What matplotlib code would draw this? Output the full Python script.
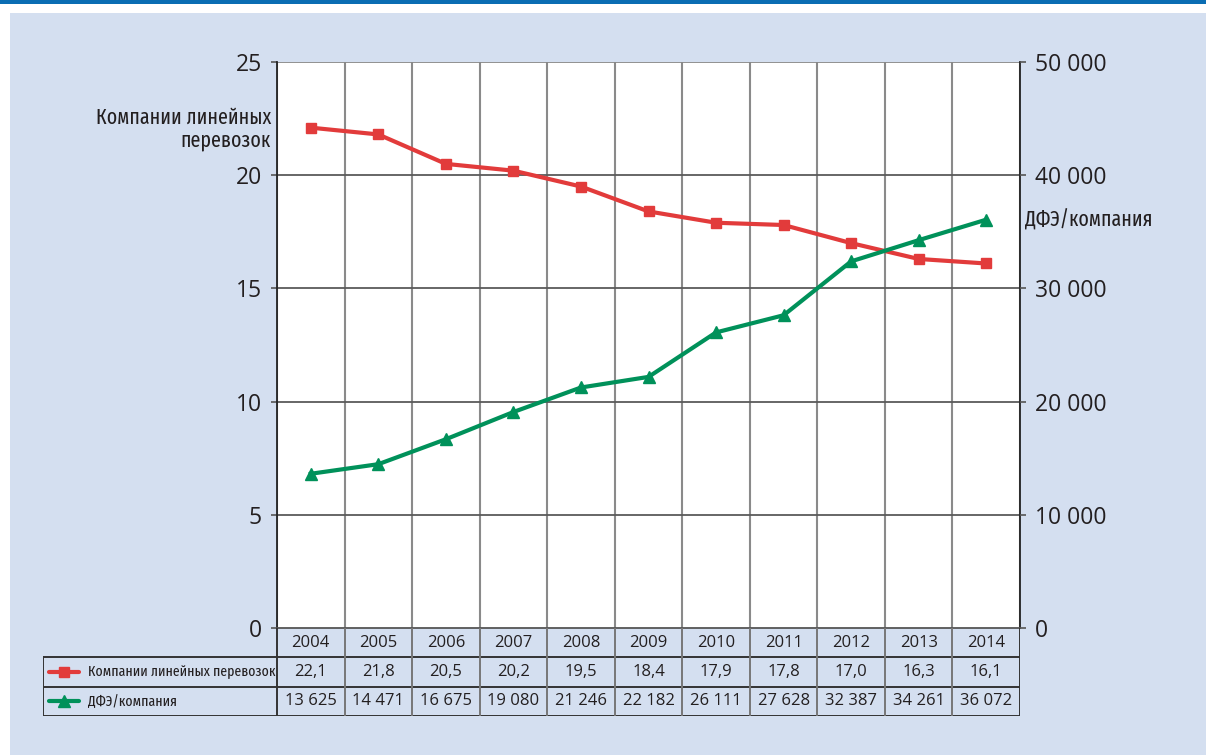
import matplotlib
matplotlib.use("Agg")
import matplotlib.pyplot as plt
from matplotlib.patches import Rectangle
import matplotlib.ticker as mticker

years = ["2004", "2005", "2006", "2007", "2008", "2009", "2010", "2011", "2012", "2013", "2014"]
companies = [22.1, 21.8, 20.5, 20.2, 19.5, 18.4, 17.9, 17.8, 17.0, 16.3, 16.1]
teu_per_company = [13625, 14471, 16675, 19080, 21246, 22182, 26111, 27628, 32387, 34261, 36072]
series_names = ["Компании линейных перевозок", "ДФЭ/компания"]
left_title = "Компании линейных\nперевозок"
right_title = "ДФЭ/компания"
left_ticks = [0, 5, 10, 15, 20, 25]
right_ticks = [0, 10000, 20000, 30000, 40000, 50000]

RED = "#e23b3b"
GREEN = "#00915a"
BG = "#d4dff0"
TXT = "#231f20"
NUM_FONT = ["Open Sans", "DejaVu Sans"]
NARROW_FONT = ["Fira Sans Extra Condensed", "DejaVu Sans"]

W, H = 1206, 755
fig = plt.figure(figsize=(W / 100, H / 100), dpi=100)
fig.patch.set_facecolor("white")

def fx(px):
    return px / W

def fy(py):
    return 1 - py / H

# background panel and top rule
fig.patches.append(Rectangle((fx(10), 0), 1 - fx(10), fy(13), transform=fig.transFigure,
                             facecolor=BG, edgecolor="none", zorder=-10))
fig.patches.append(Rectangle((0, fy(3.5)), 1, 3.5 / H, transform=fig.transFigure,
                             facecolor="#0a6db3", edgecolor="none", zorder=-10))

PL, PR, PT, PB = 277, 1020, 62, 628
n = len(years)
ax = fig.add_axes([fx(PL), fy(PB), fx(PR) - fx(PL), fy(PT) - fy(PB)])
ax.set_facecolor("white")
ax.set_xlim(-0.5, n - 0.5)
ax.set_ylim(0, 25)
ax2 = ax.twinx()
ax2.set_ylim(0, 50000)

x = list(range(n))
for k in range(n + 1):
    ax.axvline(k - 0.5, color="#8a8a8a", lw=1.5, zorder=1)
for t in left_ticks[1:]:
    ax.axhline(t, color="#5a5a5a" if t < 25 else "#888888", lw=1.3, zorder=1)

ax.plot(x, companies, color=RED, lw=3, marker="s", ms=7.2, zorder=5, clip_on=False)
ax2.plot(x, teu_per_company, color=GREEN, lw=3, marker="^", ms=8.5, zorder=5, clip_on=False)

for a in (ax, ax2):
    for s in a.spines.values():
        s.set_visible(False)
for side in ("left", "right"):
    ax.spines[side].set_visible(True)
    ax.spines[side].set_color("#222222")
    ax.spines[side].set_linewidth(1.3)
ax.spines["bottom"].set_visible(True)
ax.spines["bottom"].set_color("#555555")
ax.spines["bottom"].set_linewidth(1.3)

ax.set_xticks([])
ax.set_yticks(left_ticks)
ax.tick_params(axis="y", length=4.5, width=1.2, color="#555555", pad=6.5, labelsize=16.5,
               labelcolor=TXT)
for lab in ax.get_yticklabels():
    lab.set_family(NUM_FONT)
ax2.set_yticks(right_ticks)
ax2.yaxis.set_major_formatter(mticker.FuncFormatter(
    lambda v, p: "0" if v == 0 else f"{int(v):,}".replace(",", " ")))
ax2.tick_params(axis="y", length=4.5, width=1.2, color="#555555", pad=6.5, labelsize=16.5,
                labelcolor=TXT)
for lab in ax2.get_yticklabels():
    lab.set_family(NUM_FONT)

fig.text(fx(271), fy(129), left_title, ha="right", va="center", fontsize=15.5,
         family=NARROW_FONT, color=TXT, linespacing=1.1)
fig.text(fx(1025), fy(220), right_title, ha="left", va="center", fontsize=15.5,
         family=NARROW_FONT, color=TXT)

# data table
TL = 43
unit = (PR - PL) / n
xl = -0.5 - (PL - TL) / unit
tax = fig.add_axes([fx(TL), fy(716), fx(PR) - fx(TL), fy(628) - fy(716)])
tax.set_xlim(xl, n - 0.5)
tax.set_ylim(3, 0)
tax.axis("off")
LC = "#333333"
GC = "#777777"
for yy in (1, 2, 3):
    tax.plot([xl, n - 0.5], [yy, yy], color=LC, lw=1.4, solid_capstyle="butt")
tax.plot([xl, xl], [1, 3], color=LC, lw=1.4)
for k in range(n + 1):
    tax.plot([k - 0.5, k - 0.5], [0, 3], color=LC if k in (0, n) else GC, lw=1.4)

for i, yr in enumerate(years):
    tax.text(i, 0.5, yr, ha="center", va="center", fontsize=12, family=NUM_FONT, color=TXT)
    tax.text(i, 1.5, f"{companies[i]:.1f}".replace(".", ","), ha="center", va="center",
             fontsize=12, family=NUM_FONT, color=TXT)
    tax.text(i, 2.5, f"{teu_per_company[i]:,}".replace(",", " "), ha="center", va="center",
             fontsize=12, family=NUM_FONT, color=TXT)

sx0 = xl + 6 / unit
sx1 = xl + 36 / unit
sxm = (sx0 + sx1) / 2
tax.plot([sx0, sx1], [1.5, 1.5], color=RED, lw=3, solid_capstyle="round")
tax.plot([sxm], [1.5], color=RED, marker="s", ms=7.2, ls="none")
tax.plot([sx0, sx1], [2.5, 2.5], color=GREEN, lw=3, solid_capstyle="round")
tax.plot([sxm], [2.5], color=GREEN, marker="^", ms=8.5, ls="none")
tax.text(xl + 45 / unit, 1.5, series_names[0], ha="left", va="center", fontsize=10.8,
         family=NARROW_FONT, color=TXT)
tax.text(xl + 45 / unit, 2.5, series_names[1], ha="left", va="center", fontsize=10.8,
         family=NARROW_FONT, color=TXT)

fig.savefig("out.png", dpi=100, facecolor=fig.get_facecolor())
